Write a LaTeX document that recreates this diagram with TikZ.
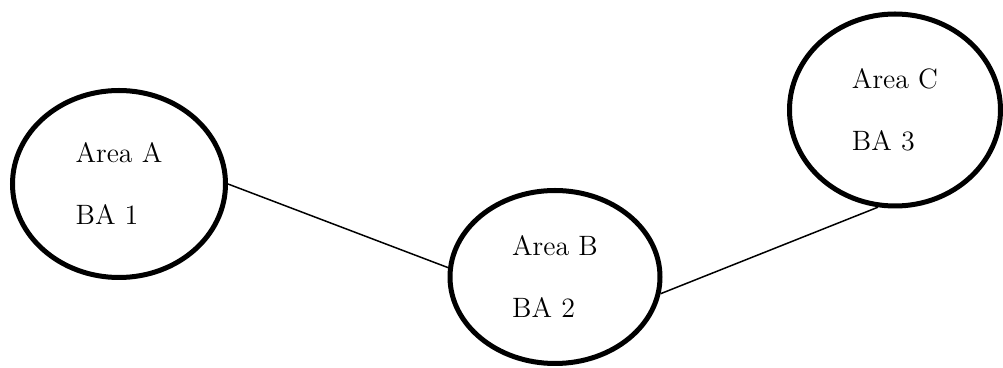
\documentclass[tikz,border=0pt]{standalone}
\usepackage{tikz}
\usetikzlibrary{shapes.geometric}
\tikzset{%
    area/.style = {draw=black, ellipse, line width=2.5pt, align=left,
        font=\fontsize{14}{31}\selectfont, inner sep=0pt},
    link/.style = {draw=black, line width=0.75pt},
}
\begin{document}
\begin{tikzpicture}[x=0.5pt, y=-0.5pt]
    \useasboundingbox (0,0) rectangle (1003,368);
    \node [area, minimum width=106.5pt, minimum height=93.5pt] (areaA) at (119,184) {Area A\\BA 1};
    \node [area, minimum width=105pt, minimum height=86.5pt] (areaB) at (555,277) {Area B\\BA 2};
    \node [area, minimum width=105.5pt, minimum height=96pt] (areaC) at (895,110) {Area C\\BA 3};
    \path [link] (areaA.east) -- (areaB.175);
    \path [link] (areaB.-9) -- (areaC.260);
\end{tikzpicture}
\end{document}
